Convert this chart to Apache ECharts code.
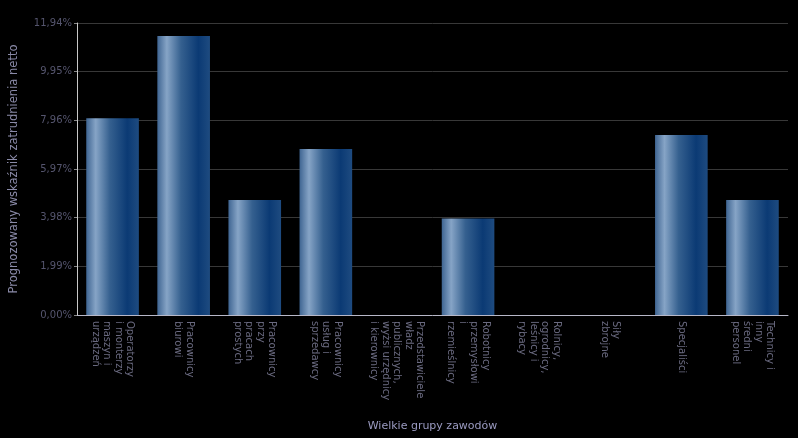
<!DOCTYPE html>
<html><head><meta charset="utf-8">
<script src="https://cdn.jsdelivr.net/npm/echarts@6/dist/echarts.min.js"></script>
<style>html,body{margin:0;padding:0;background:#000;}#c{width:798px;height:438px;}</style>
</head><body><div id="c"></div>
<script>
const categories = [
  "Operatorzy\ni monterzy\nmaszyn i\nurządzeń",
  "Pracownicy\nbiurowi",
  "Pracownicy\nprzy\npracach\nprostych",
  "Pracownicy\nusług i\nsprzedawcy",
  "Przedstawiciele\nwładz\npublicznych,\nwyżsi urzędnicy\ni kierownicy",
  "Robotnicy\nprzemysłowi\ni\nrzemieślnicy",
  "Rolnicy,\nogrodnicy,\nleśnicy i\nrybacy",
  "Siły\nzbrojne",
  "Specjaliści",
  "Technicy i\ninny\nśredni\npersonel"
];
const values = [8.05, 11.41, 4.70, 6.79, 0, 3.95, 0, 0, 7.36, 4.70];
const yMax = 11.94;
const yStep = 1.99;
const yTitle = "Prognozowany wskaźnik zatrudnienia netto";
const xTitle = "Wielkie grupy zawodów";

const chart = echarts.init(document.getElementById('c'), null, {renderer:'canvas'});
const font = "DejaVu Sans";
chart.setOption({
  backgroundColor: '#000',
  animation: false,
  grid: {left: 73, top: 23, width: 715, height: 292, containLabel: false},
  xAxis: {
    type: 'category', data: categories,
    name: xTitle, nameLocation: 'middle', nameGap: 106,
    nameTextStyle: {color: '#9a9ac0', fontSize: 11, fontFamily: font},
    axisLine: {lineStyle: {color: '#b8b8c8', width: 1}},
    axisTick: {show: false},
    axisLabel: {rotate: -90, interval: 0, margin: 6, color: '#6a6a80', fontSize: 10, fontFamily: font, lineHeight: 11.5}
  },
  yAxis: {
    type: 'value', min: 0, max: yMax, interval: yStep,
    name: yTitle, nameLocation: 'middle', nameGap: 57,
    nameTextStyle: {color: '#8a8aa8', fontSize: 11.5, fontFamily: font},
    axisLine: {show: true, lineStyle: {color: '#c8c8c8', width: 1}},
    axisTick: {show: true, length: 3, lineStyle: {color: '#888'}},
    splitLine: {lineStyle: {color: '#383838', width: 1}},
    axisLabel: {color: '#55556e', fontSize: 10, fontFamily: font, margin: 5,
      formatter: v => v.toFixed(2).replace('.', ',') + '%'}
  },
  series: [{
    type: 'bar', data: values, barWidth: '74%',
    itemStyle: {
      color: new echarts.graphic.LinearGradient(0, 0, 1, 0, [
        {offset: 0, color: '#3f6592'},
        {offset: 0.18, color: '#86a4c6'},
        {offset: 0.45, color: '#35608f'},
        {offset: 0.78, color: '#0b3a74'},
        {offset: 1, color: '#1e4b80'}
      ])
    }
  }]
});
</script></body></html>
